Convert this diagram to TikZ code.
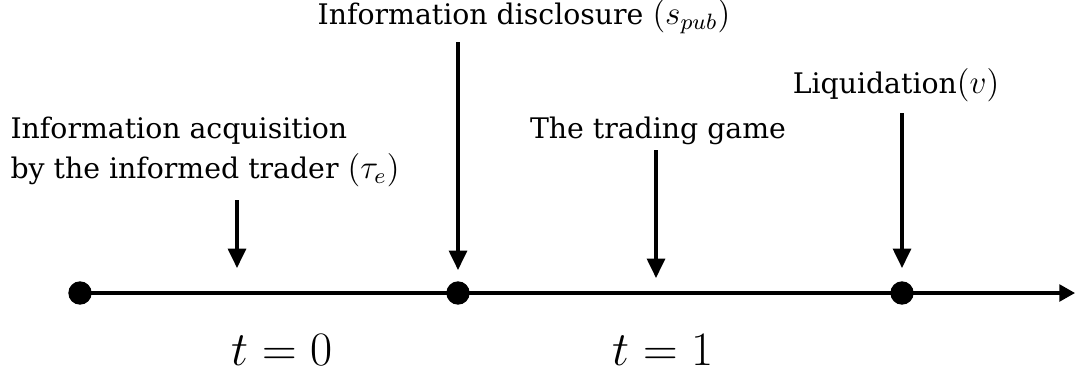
\documentclass[tikz,border=0pt]{standalone}
\usepackage{fontspec}
\setmainfont{DejaVu Serif}
\usepackage{tikz}
\usetikzlibrary{positioning,arrows.meta,calc}
\definecolor{inkBlack}{HTML}{000000}

\begin{document}
\begin{tikzpicture}[x=0.36pt,y=-0.36pt,
  evlabel/.style={inner sep=0pt,font=\fontsize{10.2}{14.4}\selectfont,text=inkBlack},
  tlabel/.style={inner sep=0pt,font=\LARGE,text=inkBlack},
  dotnode/.style={circle,fill=inkBlack,inner sep=0pt,minimum size=8.4pt},
  evarrow/.style={draw=inkBlack,line width=1.1pt,-{Triangle[length=7pt,width=6.5pt]}}]
\useasboundingbox (0,0) rectangle (1076,372);
% time line
\node[dotnode] (dotA) at (80,293) {};
\node[dotnode] (dotB) at (458,293) {};
\node[dotnode] (dotC) at (902,293) {};
\coordinate (lineEnd) at (1075,293);
\draw[evarrow,-{Triangle[length=5.6pt,width=6pt]}] (dotA.center) -- (lineEnd);
% events
\node[evlabel,anchor=north west,align=left] (acqLbl) at (10,116)
  {Information acquisition\\by the informed trader {\large$(\tau_e)$}};
\node[evlabel,anchor=base] (discLbl) at (524,25) {Information disclosure {\large$(s_{pub})$}};
\node[evlabel,anchor=base] (gameLbl) at (658,138) {The trading game};
\node[evlabel,anchor=base] (liqLbl) at (896,93) {Liquidation{\large$(v)$}};
\coordinate (acqTop) at (237,200);  \coordinate (acqTip) at (237,268);
\coordinate (discTop) at (458,42);  \coordinate (discTip) at (458,270);
\coordinate (gameTop) at (656,150); \coordinate (gameTip) at (656,278);
\coordinate (liqTop) at (902,113);  \coordinate (liqTip) at (902,268);
\draw[evarrow] (acqTop) -- (acqTip);
\draw[evarrow] (discTop) -- (discTip);
\draw[evarrow] (gameTop) -- (gameTip);
\draw[evarrow] (liqTop) -- (liqTip);
% periods
\node[tlabel,anchor=base] (perZero) at (282,365) {$t=0$};
\node[tlabel,anchor=base] (perOne) at (663,365) {$t=1$};
\end{tikzpicture}
\end{document}
